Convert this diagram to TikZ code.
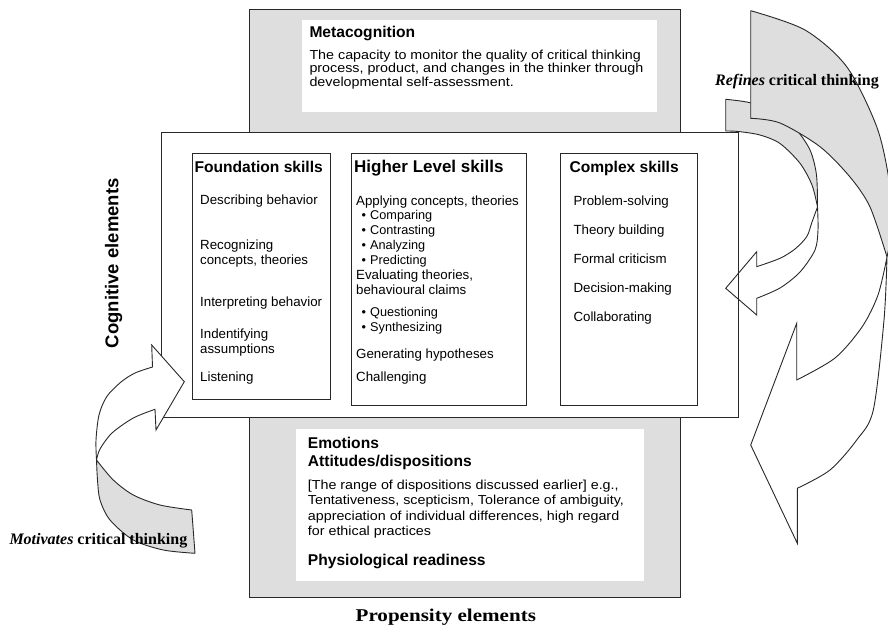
\documentclass[tikz,border=0pt]{standalone}
\usepackage{fontspec}
\setmainfont{Liberation Sans}
\newfontfamily\widesans[FakeStretch=1.1]{Liberation Sans}
\newfontfamily\serifnorm{Liberation Serif}
\newfontfamily\serifwide[FakeStretch=1.17]{Liberation Serif}
\definecolor{bggray}{RGB}{222,222,222}
\definecolor{edge}{RGB}{40,40,40}
\begin{document}
\begin{tikzpicture}[x=1pt,y=-1pt,
  boxline/.style={draw=edge, line width=1.1pt},
  frame/.style={boxline, fill=white, anchor=north west, inner sep=0pt},
  whitepad/.style={fill=white, anchor=north west, inner sep=0pt},
  arrowgray/.style={draw=edge, line width=0.9pt, fill=bggray, line join=round},
  arrowwhite/.style={draw=edge, line width=0.9pt, fill=white, line join=miter},
  arrowopen/.style={draw=edge, line width=0.9pt, line join=miter},
  txt/.style={anchor=base west, inner sep=0pt, font=\fontsize{13.3}{16}\selectfont},
  bul/.style={anchor=base west, inner sep=0pt, font=\fontsize{12.7}{14}\selectfont},
  head/.style={anchor=base west, inner sep=0pt, font=\bfseries\fontsize{15.6}{18}\selectfont},
  body/.style={anchor=base west, inner sep=0pt, font=\widesans\fontsize{13}{15}\selectfont},
  lbl/.style={anchor=base west, inner sep=0pt, font=\serifnorm\bfseries\fontsize{16}{18}\selectfont},
]
\useasboundingbox (0,0) rectangle (888,626);

% background gray (metacognition / propensity)
\node[boxline, fill=bggray, anchor=north west, inner sep=0pt, minimum width=430.7pt, minimum height=587.4pt] (bg) at (249.3,9.3) {};
\node[whitepad, minimum width=355pt, minimum height=91.7pt] (metapad) at (301.7,20) {};
\node[whitepad, minimum width=348pt, minimum height=152.4pt] (proppad) at (296,428.3) {};

% cognitive box
\node[frame, minimum width=577.6pt, minimum height=285.5pt] (cog) at (160.7,131.5) {};
\node[frame, minimum width=138.5pt, minimum height=245.8pt] (found) at (191.5,152.7) {};
\node[frame, minimum width=175pt, minimum height=251.8pt] (higher) at (351,152.7) {};
\node[frame, minimum width=136.7pt, minimum height=251.8pt] (complex) at (560,152.7) {};

% small "refines" arrow
\path[arrowgray] plot[smooth] coordinates {(725.7,99.3) (750,102.7) (775,112) (795,128) (810,150) (816.5,175) (817.5,207)}
  -- plot[smooth] coordinates {(817.5,207) (812,185) (800,163.3) (780,143.5) (760,135) (738.3,131.5) (725.7,131)} -- cycle;
\path[arrowopen] plot[smooth] coordinates {(817.5,207) (818,230) (815,250) (800,272) (780,288) (756.7,298.3)}
  -- (756.7,315) -- (725.7,288.3) -- (756.7,251.7)
  -- plot[smooth] coordinates {(756.7,266.7) (780,258.3) (795,249) (806.7,236.7) (812,222) (817.5,207)};

% big "refines" arrow
\path[arrowgray] plot[smooth] coordinates {(750.7,10.7) (805,30) (846.7,66.7) (876.7,126.7) (889,180) (892,225) (887,257)}
  -- plot[smooth] coordinates {(887,257) (870,207) (850,177) (820,146.7) (780,123) (750.7,118.3)} -- cycle;
\path[arrowwhite] plot[smooth] coordinates {(887,257) (884,320) (873.3,410) (856.7,440) (830,470) (797.3,488.3)}
  -- (797.3,543.3) -- (750.7,445) -- (796.7,323.3)
  -- plot[smooth] coordinates {(796.7,380) (835,358) (862,327) (878,295) (887,257)} -- cycle;

% "motivates" arrow
\path[arrowwhite] plot[smooth] coordinates {(96.5,460) (96,440) (99,415) (106.7,396.7) (121,382) (135,373) (152.5,367)}
  -- (151.7,345) -- (184.3,381.7) -- (156,430)
  -- plot[smooth] coordinates {(155,409.3) (133.3,418) (112,433) (100,449) (96.5,460)} -- cycle;
\path[arrowgray] plot[smooth] coordinates {(96.5,460) (97.5,480) (100,500) (110,520) (133.3,540) (163.3,550) (195,553.3)}
  -- plot[smooth] coordinates {(191.7,510) (160,505) (133.3,495) (113.3,480) (96.5,460)} -- cycle;

% metacognition text
\node[head] (metah) at (309.3,37.3) {Metacognition};
\node[body] (meta1) at (309.3,59.3) {The capacity to monitor the quality of critical thinking};
\node[body] (meta2) at (309.3,72.8) {process, product, and changes in the thinker through};
\node[body] (meta3) at (309.3,86.3) {developmental self-assessment.};

% foundation skills
\node[head] (foundh) at (194.3,172.7) {Foundation skills};
\node[txt] (f1) at (200,204.5) {Describing behavior};
\node[txt] (f2) at (200,249.5) {Recognizing};
\node[txt] (f3) at (200,264.5) {concepts, theories};
\node[txt] (f4) at (200,306) {Interpreting behavior};
\node[txt] (f5) at (200,338) {Indentifying};
\node[txt] (f6) at (200,353) {assumptions};
\node[txt] (f7) at (200,381) {Listening};

% higher level skills
\node[head, font=\bfseries\fontsize{17}{19}\selectfont] (highh) at (354,172.7) {Higher Level skills};
\node[txt] (h1) at (356,205) {Applying concepts, theories};
\node[bul] (h2) at (361.5,219.3) {\makebox[8.5pt][l]{•}Comparing};
\node[bul] (h3) at (361.5,234.3) {\makebox[8.5pt][l]{•}Contrasting};
\node[bul] (h4) at (361.5,249.5) {\makebox[8.5pt][l]{•}Analyzing};
\node[bul] (h5) at (361.5,264.5) {\makebox[8.5pt][l]{•}Predicting};
\node[txt] (h6) at (356,279.5) {Evaluating theories,};
\node[txt] (h7) at (356,294.5) {behavioural claims};
\node[bul] (h8) at (361.5,316.8) {\makebox[8.5pt][l]{•}Questioning};
\node[bul] (h9) at (361.5,331.3) {\makebox[8.5pt][l]{•}Synthesizing};
\node[txt] (h10) at (356,358.8) {Generating hypotheses};
\node[txt] (h11) at (356,381) {Challenging};

% complex skills
\node[head] (comph) at (569.3,172.7) {Complex skills};
\node[txt] (c1) at (573.3,205) {Problem-solving};
\node[txt] (c2) at (573.3,234) {Theory building};
\node[txt] (c3) at (573.3,263.3) {Formal criticism};
\node[txt] (c4) at (573.3,292.5) {Decision-making};
\node[txt] (c5) at (573.3,321.5) {Collaborating};

% propensity text
\node[head] (emo) at (307.7,448) {Emotions};
\node[head] (att) at (307.7,466.7) {Attitudes/dispositions};
\node[body] (p1) at (307.7,489.3) {[The range of dispositions discussed earlier] e.g.,};
\node[body] (p2) at (307.7,504.6) {Tentativeness, scepticism, Tolerance of ambiguity,};
\node[body] (p3) at (307.7,520) {appreciation of individual differences, high regard};
\node[body] (p4) at (307.7,535.4) {for ethical practices};
\node[head] (phys) at (307.7,565) {Physiological readiness};

% side labels
\node[rotate=90, anchor=base, inner sep=0pt, font=\bfseries\fontsize{18.5}{20}\selectfont] (coglbl) at (118.3,263.3) {Cognitive elements};
\node[anchor=base, inner sep=0pt, font=\serifwide\bfseries\fontsize{18}{20}\selectfont] (proplbl) at (445.8,621.7) {Propensity elements};
\node[lbl] (motlbl) at (9.3,544) {\itshape Motivates\/ \upshape critical thinking};
\node[lbl] (reflbl) at (715,85) {\itshape Refines\/ \upshape critical thinking};
\end{tikzpicture}
\end{document}
